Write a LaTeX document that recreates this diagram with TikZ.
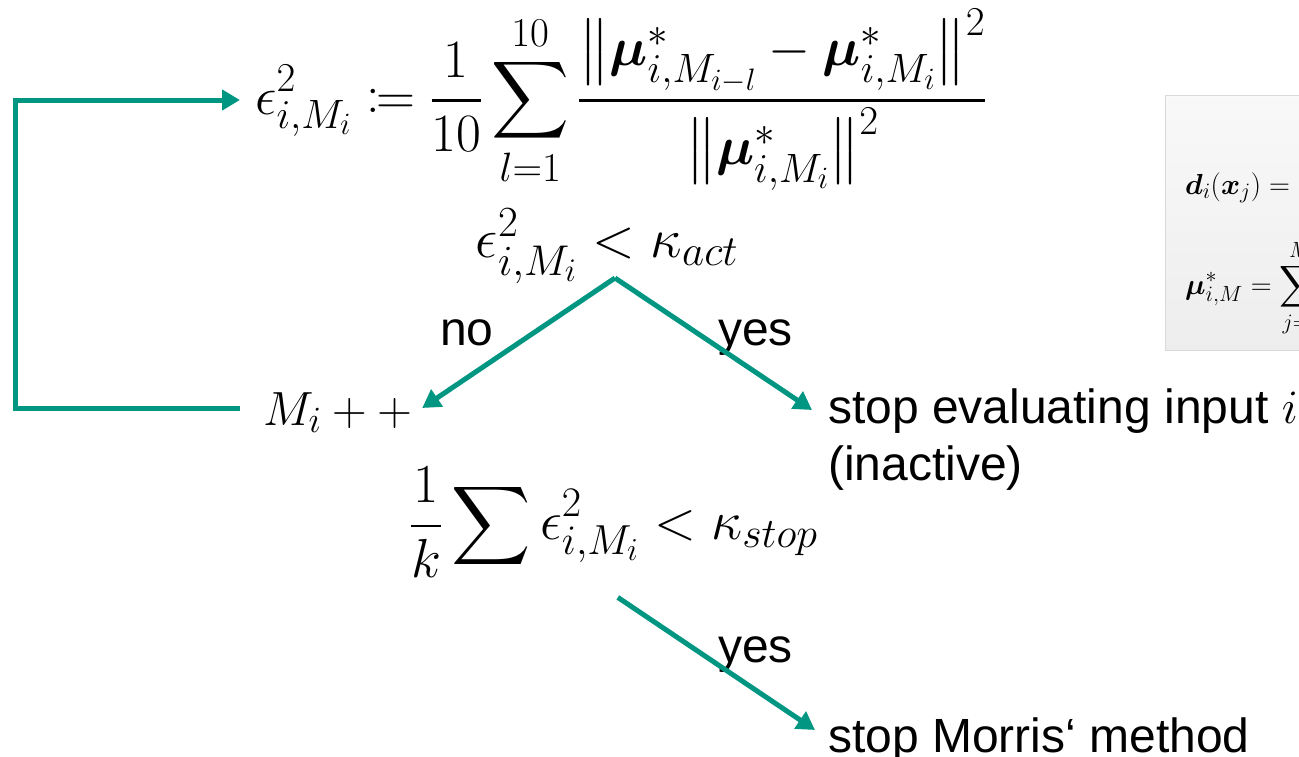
\RequirePackage{fix-cm}
\documentclass[tikz,border=0pt]{standalone}
\usepackage{amsmath,amssymb,mathtools,graphicx}
\usepackage{fontspec}
\setsansfont{Liberation Sans}
\DeclareMathSizes{48}{48}{37}{28}
\DeclareMathSizes{54}{54}{41}{31}
\DeclareMathSizes{55}{55}{42}{32}
\DeclareMathSizes{56}{56}{43}{33}
\DeclareMathSizes{29}{29}{22}{17}
\usetikzlibrary{arrows.meta,calc}
\definecolor{kit}{RGB}{0,150,130}
\tikzset{
  flow/.style={draw=kit, line width=5pt, line join=miter, -{Triangle[length=18pt,width=20pt]}},
  mth/.style={inner sep=0pt, font=\fontsize{48}{58}\selectfont},
  mthmain/.style={inner sep=0pt, font=\fontsize{54}{65}\selectfont},
  mthbig/.style={inner sep=0pt, font=\fontsize{56}{67}\selectfont},
  mthstop/.style={inner sep=0pt, font=\fontsize{55}{66}\selectfont},
  txt/.style={inner sep=0pt, font=\sffamily\fontsize{48}{57}\selectfont},
  small/.style={inner sep=0pt, font=\fontsize{29}{35}\selectfont},
  graybox/.style={top color=gray!5, bottom color=gray!14, draw=gray!30, line width=1pt},
}
\begin{document}
\begin{tikzpicture}[x=1pt,y=-1pt]
\useasboundingbox (0,0) rectangle (1299,756);
\clip (0,0) rectangle (1299,756);
% side box
\path[graybox] (1165,95) rectangle (1330,350);
\node[small, anchor=base west] (d) at (1185,194) {$\boldsymbol{d}_i(\boldsymbol{x}_j) =$};
\node[small, anchor=base west] (mu) at (1185,294) {$\displaystyle\boldsymbol{\mu}^*_{i,M} = \sum_{j=1}^{M}$};
% formulas
\node[mthmain, anchor=base west] (e1) at (255,114) {$\displaystyle\epsilon^2_{i,M_i} \coloneqq \frac{1}{10}\sum_{l=1}^{10}\frac{\bigl\|\boldsymbol{\mu}^*_{i,M_{i-l}}-\boldsymbol{\mu}^*_{i,M_i}\bigr\|^2}{\bigl\|\boldsymbol{\mu}^*_{i,M_i}\bigr\|^2}$};
\node[mthbig, anchor=base] (c1) at (607,257) {$\epsilon^2_{i,M_i} < \kappa_{act}$};
\node[mth, anchor=base west] (mi) at (263,425) {$M_i + +$};
\node[mthstop, anchor=west] (c2) at (410,522) {$\displaystyle\frac{1}{k}\sum\epsilon^2_{i,M_i} < \kappa_{stop}$};
% texts
\node[txt, anchor=base west] (s1) at (828,423) {stop evaluating input $\fontsize{48}{58}\selectfont i$};
\node[txt, anchor=base west] (s1b) at (828,480) {(inactive)};
\node[txt, anchor=base west] (s2) at (828,752) {stop Morris‘ method};
\node[txt, anchor=base west] (no) at (440,345) {no};
\node[txt, anchor=base west] (yes1) at (718,345) {yes};
\node[txt, anchor=base west] (yes2) at (718,662) {yes};
% connectors
\coordinate (L) at (15,0);
\coordinate (mia) at ([xshift=-23pt,yshift=17pt]mi.base west);
\coordinate (e1a) at ([xshift=-15pt,yshift=14pt]e1.base west);
\draw[flow] (mia) -- (mia -| L) -- (e1a -| L) -- (e1a);
\coordinate (top1) at ([xshift=8pt,yshift=-21pt]c1.base);
\draw[flow] (top1) -- ([xshift=10pt,yshift=17pt]mi.base east);
\draw[flow] (top1) -- ([xshift=-16pt,yshift=13pt]s1.base west);
\draw[flow] ([xshift=4pt,yshift=-20pt]c2.south) -- ([xshift=-13pt,yshift=22pt]s2.base west);
\end{tikzpicture}
\end{document}
